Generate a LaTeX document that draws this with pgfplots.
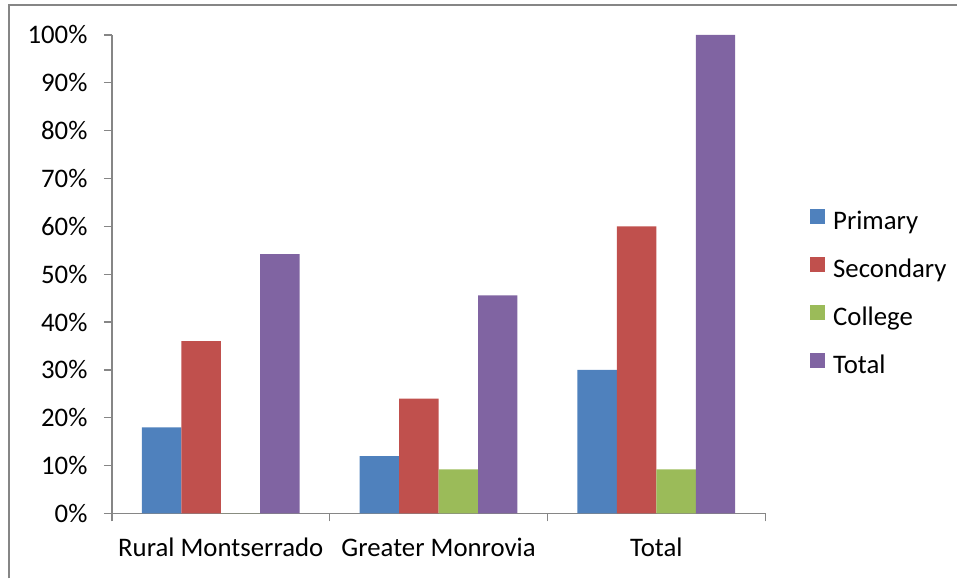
\documentclass[border=0pt]{standalone}
\usepackage{fontspec}
\setmainfont{Carlito}
\usepackage{pgfplots}
\pgfplotsset{compat=1.18}

\definecolor{cPrim}{HTML}{4F81BD}
\definecolor{cSec}{HTML}{C0504D}
\definecolor{cCol}{HTML}{9BBB59}
\definecolor{cTot}{HTML}{8064A2}
\definecolor{axgray}{HTML}{868686}

\begin{document}
\begin{tikzpicture}
\begin{axis}[
  scale only axis,
  width=654bp, height=479bp,
  ybar=0pt,
  bar width=39.5bp,
  xmin=-0.5, xmax=2.5,
  ymin=0, ymax=100,
  axis lines*=left,
  axis line style={axgray, line width=1.3bp},
  every tick/.style={axgray, line width=1.3bp},
  tick align=outside,
  xtick={0,1,2},
  xticklabels={Rural Montserrado, Greater Monrovia, Total},
  major x tick style={draw=none},
  minor xtick={-0.5,0.5,1.5,2.5},
  minor tick length=8bp,
  major tick length=8bp,
  ytick={0,10,...,100},
  yticklabels={0\%,10\%,20\%,30\%,40\%,50\%,60\%,70\%,80\%,90\%,100\%},
  tick label style={font=\fontsize{26.8bp}{31bp}\selectfont},
  xticklabel style={yshift=-13bp},
  yticklabel style={xshift=-13bp},
  legend style={
    draw=none, fill=none,
    at={(rel axis cs:1.064,0.458)}, anchor=west,
    font=\fontsize{26.8bp}{31bp}\selectfont,
    nodes={inner sep=0pt, text height=18bp, text depth=6bp},
    row sep=21bp,
    /tikz/every odd column/.append style={column sep=8bp},
  },
  legend cell align=left,
  legend image code/.code={\path[#1,draw=none] (0bp,0bp) rectangle (15bp,15bp);},
]
\addplot[fill=cPrim, draw=none] coordinates {(0,18) (1,12) (2,30)};
\addplot[fill=cSec, draw=none] coordinates {(0,36) (1,24) (2,60)};
\addplot[fill=cCol, draw=none] coordinates {(0,0) (1,9.2) (2,9.2)};
\addplot[fill=cTot, draw=none] coordinates {(0,54.2) (1,45.6) (2,100)};
\legend{Primary, Secondary, College, Total}
\end{axis}
\draw[axgray, line width=2bp] (-103bp,-65bp) -- (-103bp,509bp) -- (846bp,509bp);
\path[use as bounding box] (-112bp,-65bp) rectangle (846bp,514bp);
\end{tikzpicture}
\end{document}
